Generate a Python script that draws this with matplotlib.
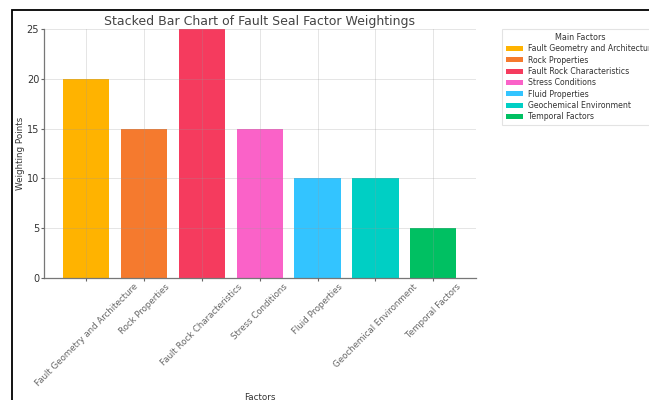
import matplotlib
matplotlib.use("Agg")
import matplotlib.pyplot as plt
from matplotlib.patches import Rectangle

factors = ["Fault Geometry and Architecture", "Rock Properties",
           "Fault Rock Characteristics", "Stress Conditions",
           "Fluid Properties", "Geochemical Environment", "Temporal Factors"]
weights = [20, 15, 25, 15, 10, 10, 5]
colors = ["#FFB300", "#F57A2E", "#F53B5E", "#FA62C8",
          "#33C4FF", "#00CFC4", "#00C062"]

fig = plt.figure(figsize=(6.49, 4.0), dpi=100)
ax = fig.add_axes([44/649, 1 - 278/400, (476-44)/649, (278-29)/400])

x = list(range(len(factors)))
for i, (f, w, c) in enumerate(zip(factors, weights, colors)):
    ax.bar(i, w, width=0.8, color=c, label=f, zorder=2)

ax.set_xlim(-0.73, 6.74)
ax.set_ylim(0, 25)
ax.set_yticks([0, 5, 10, 15, 20, 25])
ax.set_xticks(x)
ax.set_xticklabels(factors, rotation=45, ha="center",
                   fontsize=6.2, color="#333333")
ax.tick_params(axis="y", labelsize=7, colors="#666666", labelcolor="#333333",
               length=2.5, pad=1)
ax.tick_params(axis="x", colors="#666666", length=2, pad=1)
ax.grid(True, color="#999999", alpha=0.3, linestyle="-",
        linewidth=0.6, zorder=3)
ax.set_axisbelow(False)
for s in ["top", "right"]:
    ax.spines[s].set_visible(False)
for s in ["left", "bottom"]:
    ax.spines[s].set_color("#777777")
    ax.spines[s].set_linewidth(0.9)

ax.set_title("Stacked Bar Chart of Fault Seal Factor Weightings",
             fontsize=9, color="#444444", pad=3)
ax.set_ylabel("Weighting Points", fontsize=6.3, color="#333333")
ax.yaxis.set_label_coords(-0.044, 0.5)
ax.set_xlabel("Factors", fontsize=6.3, color="#333333")
ax.xaxis.set_label_coords(0.5, -0.46)

leg = ax.legend(title="Main Factors", loc="upper left",
                bbox_to_anchor=(1.06, 1.0), fontsize=5.6, title_fontsize=5.8,
                frameon=True, handlelength=2.2, handleheight=0.65,
                labelspacing=0.3, borderpad=0.5, handletextpad=0.6,
                borderaxespad=0.0, fancybox=False)
leg.get_frame().set_edgecolor("#dddddd")
leg.get_frame().set_linewidth(0.8)
for t in leg.get_texts():
    t.set_color("#333333")
leg.get_title().set_color("#333333")

# outer frame
fig.add_artist(Rectangle((11.5/649, -0.1), 1.2, 1 - 9.5/400 + 0.1,
                         transform=fig.transFigure, fill=False,
                         edgecolor="black", linewidth=1.3, clip_on=False))

fig.savefig("out.png", dpi=100)
